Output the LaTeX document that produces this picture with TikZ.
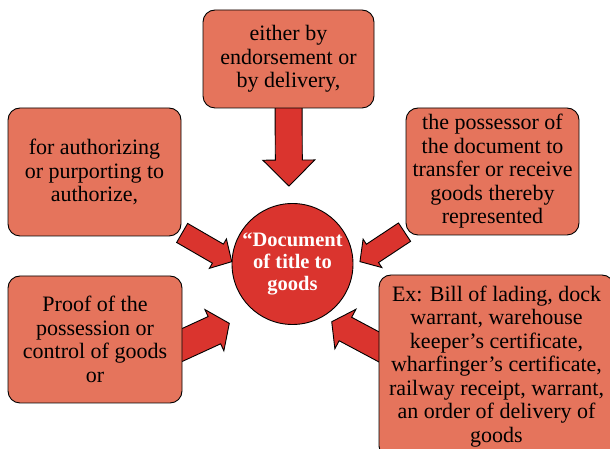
\documentclass[tikz,border=0pt]{standalone}
\usepackage{fontspec}
\setmainfont{Liberation Serif}
\usetikzlibrary{calc,backgrounds}

\definecolor{boxfill}{RGB}{229,116,92}
\definecolor{hubred}{RGB}{218,52,46}

% seta larga: inicio, ponta, meia largura do corpo, meia largura da ponta, comprimento da ponta
\newcommand{\fatarrow}[5]{%
  \coordinate (fs) at #1;
  \coordinate (fe) at #2;
  \coordinate (fn) at ($(fe)!#5!(fs)$);
  \draw[bigarrow] ($(fs)!#3!90:(fe)$) -- ($(fn)!#3!90:(fe)$) -- ($(fn)!#4!90:(fe)$)
    -- (fe) -- ($(fn)!#4!-90:(fe)$) -- ($(fn)!#3!-90:(fe)$) -- ($(fs)!#3!-90:(fe)$) -- cycle;
}

\begin{document}
\begin{tikzpicture}[x=1pt,y=1pt,
  infobox/.style={draw, fill=boxfill, rounded corners=12pt, align=center, inner sep=0pt,
    line width=0.9pt, font=\fontsize{22}{23.5}\selectfont},
  hub/.style={circle, draw, fill=hubred, text=white, align=center, inner sep=0pt,
    line width=0.9pt, minimum size=121pt, font=\fontsize{20.5}{22}\selectfont\bfseries},
  bigarrow/.style={draw, fill=hubred, line width=0.9pt, line join=miter}]
\useasboundingbox (0,0) rectangle (610,449);
\clip (0,0) rectangle (610,449);

% centro
\node[hub] (doc) at (292.5,185) {“Document\\of title to\\goods};

% caixas
\node[infobox, minimum width=171pt, minimum height=98pt] (top) at (288.5,390)
  {either by\\endorsement or\\by delivery,};
\node[infobox, minimum width=173pt, minimum height=128pt] (tl) at (94.5,277)
  {for authorizing\\or purporting to\\authorize,};
\node[infobox, minimum width=173pt, minimum height=127pt] (tr) at (492.5,277.5)
  {the possessor of\\the document to\\transfer or receive\\goods thereby\\represented};
\node[infobox, minimum width=174pt, minimum height=127pt] (bl) at (95,109.5)
  {Proof of the\\possession or\\control of goods\\or};
\node[infobox, minimum width=235pt, minimum height=183pt] (br) at (496.5,82.5)
  {Ex: Bill of lading, dock\\warrant, warehouse\\keeper’s certificate,\\wharfinger’s certificate,\\railway receipt, warrant,\\an order of delivery of\\goods};

% setas
\begin{pgfonlayer}{background}
\fatarrow{($(top.south)+(0,10)$)}{($(doc.center)+(92.6:78)$)}{13.5pt}{26pt}{26pt}
\fatarrow{($(tl.south east)+(0.7,3.5)$)}{($(doc.center)+(177.8:60.8)$)}{11pt}{17pt}{16pt}
\fatarrow{($(tr.south west)+(-1,3.3)$)}{($(doc.center)+(2:67.5)$)}{11pt}{17pt}{15pt}
\fatarrow{($(bl.east)+(-9,-9.5)$)}{($(doc.center)+(223.2:86.7)$)}{15pt}{22.7pt}{16.4pt}
\fatarrow{($(br.west)+(9,15)$)}{($(doc.center)+(304.2:69.8)$)}{13.3pt}{22.4pt}{15.5pt}
\end{pgfonlayer}
\end{tikzpicture}
\end{document}
